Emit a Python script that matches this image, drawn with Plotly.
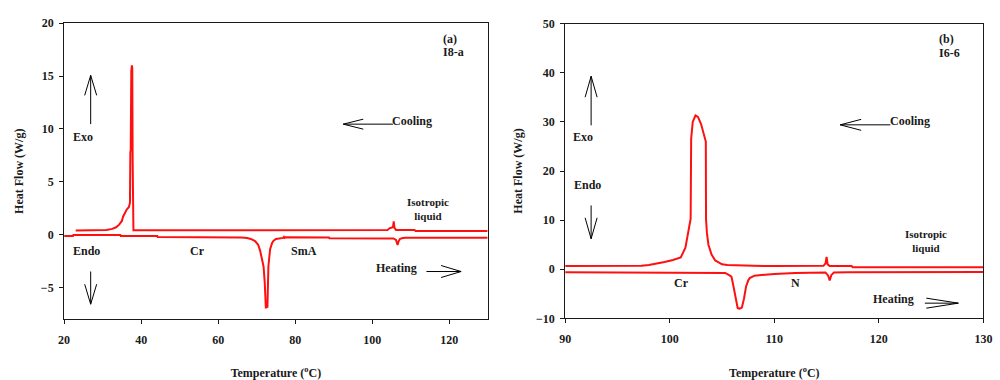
import plotly.graph_objects as go

# ---------------- data ----------------
# Panel (a) I8-a : cooling (upper) and heating (lower) traces
T_a_cool = [23, 28, 31, 32.5, 33.5, 34.3, 35, 35.3, 35.8, 36.3, 36.8, 37.1, 37.2, 37.3, 37.45,
            37.6, 37.7, 37.8, 37.9, 38.0, 45, 60, 80, 100, 104, 104.5, 105.4, 105.6, 105.8,
            106.2, 111, 111.3, 120, 130]
HF_a_cool = [0.4, 0.42, 0.45, 0.55, 0.7, 0.95, 1.3, 1.7, 2.1, 2.4, 2.6, 3.0, 7.8, 8.0, 15.5,
             16.0, 15.8, 7.0, 0.5, 0.42, 0.42, 0.42, 0.42, 0.42, 0.45, 0.6, 0.7, 1.25, 0.65,
             0.45, 0.45, 0.35, 0.35, 0.35]

T_a_heat = [20, 22.3, 22.4, 34.6, 34.7, 44.2, 44.3, 60, 64, 66, 67.5, 68.5, 69.6, 70.4, 70.9,
            71.4, 71.8, 72.1, 72.4, 72.6, 72.8, 73.05, 73.2, 73.5, 74.0, 74.3, 75, 76, 76.9,
            77.1, 77.3, 77.5, 80, 88.8, 88.9, 104, 105.5, 106.2, 106.6, 106.9, 107.2, 107.7,
            108.5, 120, 130]
HF_a_heat = [-0.12, -0.12, -0.02, -0.02, -0.12, -0.12, -0.22, -0.22, -0.24, -0.26, -0.32, -0.4,
             -0.6, -0.95, -1.5, -2.2, -3.0, -4.5, -6.97, -6.5, -6.9, -3.0, -2.2, -1.36, -0.8,
             -0.6, -0.4, -0.32, -0.3, -0.2, -0.3, -0.25, -0.25, -0.27, -0.33, -0.33, -0.35,
             -0.5, -0.96, -0.6, -0.4, -0.33, -0.3, -0.3, -0.3]

# Panel (b) I6-6
T_b_cool = [90, 95, 97.3, 98, 98.7, 99.5, 100.3, 101.05, 101.5, 101.8, 102.0, 102.05, 102.2,
            102.46, 102.7, 103.0, 103.3, 103.45, 103.47, 103.55, 103.7, 104.0, 104.35, 104.7,
            105, 105.5, 106.5, 108, 110, 114.7, 114.9, 115.0, 115.1, 115.3, 117.4, 117.5, 125, 130]
HF_b_cool = [0.65, 0.65, 0.7, 0.85, 1.1, 1.5, 1.9, 2.4, 4.4, 8.3, 10.3, 26.6, 30.0, 31.3, 31.0,
             29.5, 27.5, 26.0, 10.3, 7.5, 5.0, 3.0, 1.8, 1.3, 1.0, 0.85, 0.75, 0.7, 0.65, 0.7,
             1.2, 2.5, 1.0, 0.65, 0.65, 0.4, 0.4, 0.4]

T_b_heat = [90, 100, 104.5, 105.3, 105.6, 105.9, 106.05, 106.2, 106.35, 106.5, 106.7, 106.9,
            107.1, 107.3, 107.5, 107.65, 108.1, 109, 110, 112, 114, 114.9, 115.15, 115.3,
            115.45, 115.7, 117, 130]
HF_b_heat = [-0.6, -0.6, -0.6, -0.75, -1.1, -1.5, -3.0, -4.8, -6.8, -7.9, -8.0, -7.8, -6.0,
             -3.5, -2.3, -1.8, -1.3, -1.1, -0.95, -0.75, -0.62, -0.65, -1.3, -2.3, -1.2,
             -0.65, -0.6, -0.55]

X_TITLE = "Temperature (<sup>o</sup>C)"
Y_TITLE = "Heat Flow (W/g)"

# ---------------- figure ----------------
RED = "#ff1010"
FONT = "Liberation Serif"
INK = "#1a1a1a"

fig = go.Figure()
for xs, ys, xa, ya in [(T_a_cool, HF_a_cool, "x", "y"), (T_a_heat, HF_a_heat, "x", "y"),
                       (T_b_cool, HF_b_cool, "x2", "y2"), (T_b_heat, HF_b_heat, "x2", "y2")]:
    fig.add_trace(go.Scatter(x=xs, y=ys, mode="lines", xaxis=xa, yaxis=ya,
                             line=dict(color=RED, width=2), hoverinfo="skip"))

tickfont = dict(family=FONT, size=12, color=INK, weight="bold")
titlefont = dict(family=FONT, size=12, color=INK, weight="bold")
common = dict(showline=True, linecolor=INK, linewidth=1, mirror=True, ticks="outside",
              ticklen=4, tickcolor=INK, showgrid=False, zeroline=False, tickfont=tickfont,
              ticklabeloverflow="allow")

fig.update_layout(
    width=1000, height=380, margin=dict(l=0, r=0, t=0, b=0),
    paper_bgcolor="white", plot_bgcolor="white", showlegend=False,
    xaxis=dict(domain=[0.059, 0.489], range=[20, 130], tick0=20, dtick=20, anchor="y",
               ticklabelstandoff=5,
               title=dict(text=X_TITLE, font=titlefont, standoff=24), **common),
    yaxis=dict(domain=[0.1466, 0.956], range=[-8, 20], tick0=0, dtick=5, anchor="x",
               ticklabelstandoff=3,
               title=dict(text=Y_TITLE, font=titlefont, standoff=14), **common),
    xaxis2=dict(domain=[0.5677, 0.9923], range=[90, 130], tick0=90, dtick=10, anchor="y2",
                ticklabelstandoff=5,
                title=dict(text=X_TITLE, font=titlefont, standoff=24), **common),
    yaxis2=dict(domain=[0.1492, 0.9545], range=[-10, 50], tick0=0, dtick=10, anchor="x2",
                ticklabelstandoff=3,
                title=dict(text=Y_TITLE, font=titlefont, standoff=10), **common),
)

# ---------------- annotations ----------------
labels = [
    ("x", "y", 120.25, 18.5, "(a)", 12),
    ("x", "y", 121.0, 17.3, "I8-a", 12),
    ("x", "y", 25.0, 9.25, "Exo", 12),
    ("x", "y", 25.9, -1.57, "Endo", 12),
    ("x", "y", 54.7, -1.57, "Cr", 12),
    ("x", "y", 82.3, -1.57, "SmA", 12),
    ("x", "y", 106.2, -3.1, "Heating", 12),
    ("x", "y", 110.4, 10.76, "Cooling", 12),
    ("x", "y", 114.6, 2.45, "Isotropic<br>liquid", 11),
    ("x2", "y2", 126.5, 46.9, "(b)", 12),
    ("x2", "y2", 126.8, 44.0, "I6-6", 12),
    ("x2", "y2", 91.7, 26.9, "Exo", 12),
    ("x2", "y2", 92.1, 17.1, "Endo", 12),
    ("x2", "y2", 101.1, -2.8, "Cr", 12),
    ("x2", "y2", 112.0, -2.8, "N", 12),
    ("x2", "y2", 121.4, -6.1, "Heating", 12),
    ("x2", "y2", 123.0, 30.2, "Cooling", 12),
    ("x2", "y2", 124.5, 5.8, "Isotropic<br>liquid", 11),
]
for xr, yr, x, y, t, s in labels:
    fig.add_annotation(xref=xr, yref=yr, x=x, y=y, text=t, showarrow=False,
                       xanchor="center", yanchor="middle", align="center",
                       font=dict(family=FONT, size=s, color=INK, weight="bold"))

shapes = []


def arrow(xr, yr, tail, tip, L, hw):
    shapes.append(dict(type="line", xref=xr, yref=yr, x0=tail[0], y0=tail[1],
                       x1=tip[0], y1=tip[1], line=dict(color="black", width=1)))
    if tail[0] == tip[0]:
        d = 1 if tip[1] > tail[1] else -1
        path = f"M{-hw},{-d * L} L0,0 L{hw},{-d * L}"
    else:
        d = 1 if tip[0] > tail[0] else -1
        path = f"M{-d * L},{hw} L0,0 L{-d * L},{-hw}"
    shapes.append(dict(type="path", xref=xr, yref=yr, xsizemode="pixel", ysizemode="pixel",
                       xanchor=tip[0], yanchor=tip[1], path=path,
                       line=dict(color="black", width=1)))


arrow("x", "y", (26.9, 10.45), (26.9, 15.06), 20, 6)
arrow("x", "y", (26.9, -3.48), (26.9, -6.57), 20, 6)
arrow("x", "y", (105.4, 10.45), (92.5, 10.45), 20, 5)
arrow("x", "y", (114.1, -3.48), (123.1, -3.48), 20, 6)
arrow("x2", "y2", (92.48, 29.3), (92.48, 39.3), 21, 6)
arrow("x2", "y2", (92.48, 13.0), (92.48, 6.2), 21, 6)
arrow("x2", "y2", (121.1, 29.4), (116.3, 29.4), 21, 5.5)
arrow("x2", "y2", (124.4, -6.9), (127.6, -6.9), 32, 5)
fig.update_layout(shapes=shapes)

fig.write_html("out.html")
